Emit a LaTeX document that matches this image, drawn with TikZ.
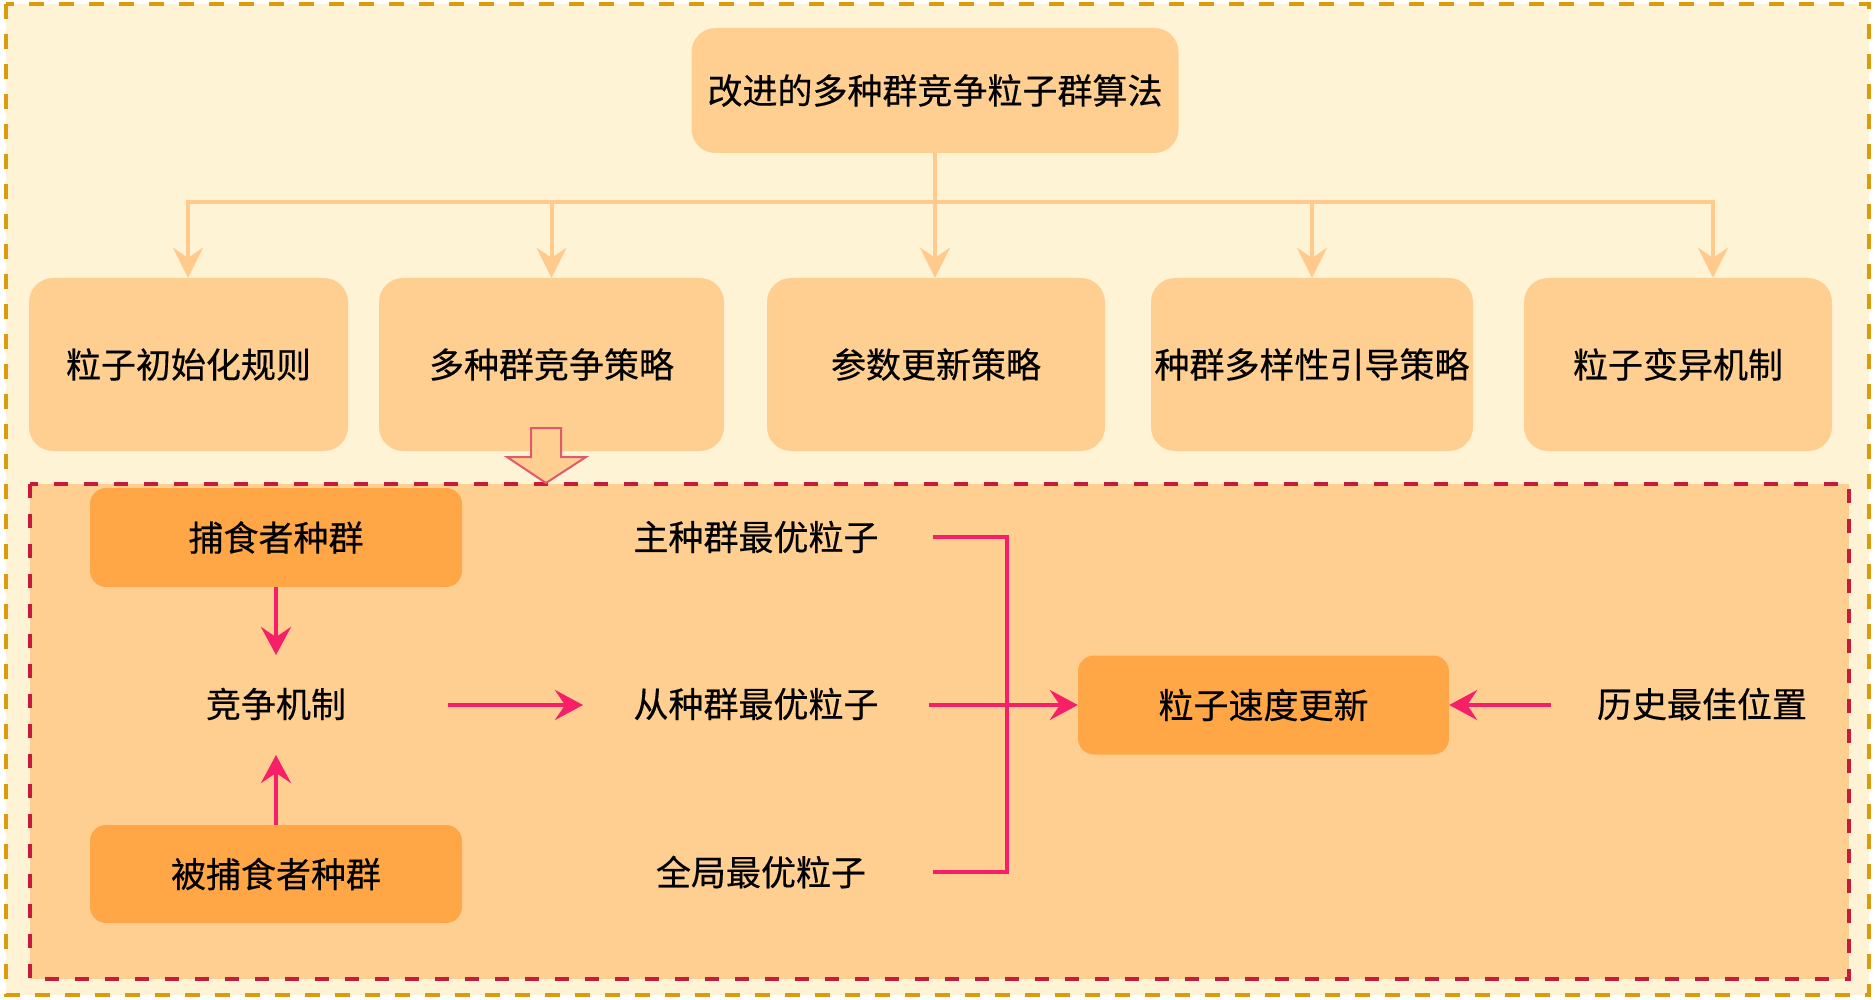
\documentclass[tikz,border=0pt]{standalone}
\usepackage{fontspec}
\newfontfamily\cjk[FakeBold=0.4]{Noto Sans CJK SC}
\usetikzlibrary{arrows.meta,calc}
\definecolor{bgcream}{HTML}{FFF3D6}
\definecolor{goldline}{HTML}{DB9B0C}
\definecolor{lightor}{HTML}{FFCF92}
\definecolor{connor}{HTML}{FFCA8C}
\definecolor{darkor}{HTML}{FFA646}
\definecolor{redline}{HTML}{C81A3C}
\definecolor{pinkline}{HTML}{F72068}
\definecolor{hollowline}{HTML}{E05A6A}
\tikzset{
  txt/.style={font=\cjk\fontsize{35}{42}\selectfont, text=black, inner sep=0pt},
  topbox/.style={txt, fill=lightor, draw=none, rounded corners=24pt},
  darkbox/.style={txt, fill=darkor, draw=none, rounded corners=16pt},
  conn/.style={draw=connor, line width=4pt, -{Stealth[length=30pt,width=30pt,inset=10pt]}},
  connline/.style={draw=connor, line width=4pt},
  pk/.style={draw=pinkline, line width=4pt, -{Stealth[length=28pt,width=30pt,inset=10pt]}},
  pkline/.style={draw=pinkline, line width=4pt},
}
\begin{document}
\begin{tikzpicture}[x=1pt,y=-1pt]
\useasboundingbox (0,0) rectangle (1875,1000);
\fill[white] (0,0) rectangle (1875,1000);
% outer region
\draw[fill=bgcream, draw=goldline, line width=4pt, dash pattern=on 15pt off 15pt] (6,4) rectangle (1869,995);
% inner region
\draw[fill=lightor, draw=redline, line width=4.5pt, dash pattern=on 14pt off 16pt] (30,484) rectangle (1849,979);

% top node
\node[topbox, minimum width=487pt, minimum height=125pt] (top) at (935,90.5) {改进的多种群竞争粒子群算法};

% row nodes
\node[topbox, minimum width=319pt, minimum height=173pt] (b1) at (188.5,364.5) {粒子初始化规则};
\node[topbox, minimum width=345pt, minimum height=173pt] (b2) at (551.5,364.5) {多种群竞争策略};
\node[topbox, minimum width=338pt, minimum height=173pt] (b3) at (936,364.5) {参数更新策略};
\node[topbox, minimum width=322pt, minimum height=173pt] (b4) at (1312,364.5) {种群多样性引导策略};
\node[topbox, minimum width=308pt, minimum height=173pt] (b5) at (1678,364.5) {粒子变异机制};

% top connectors
\coordinate (hl) at (188,202);
\coordinate (hr) at (1713,202);
\draw[connline] (top.south) -- (top.south |- hl);
\draw[connline, line cap=rect] (hl) -- (hr);
\draw[conn] (hl) -- (b1.north -| hl);
\draw[conn] (b2.north |- hl) -- (b2.north);
\draw[conn] (top.south |- hl) -- (top.south |- b3.north);
\draw[conn] (b4.north |- hl) -- (b4.north);
\draw[conn] (hr) -- (hr |- b5.north);

% hollow arrow
\draw[fill=lightor, draw=hollowline, line width=2pt, line join=miter]
  (531,428) -- (561,428) -- (561,457) -- (586,457) -- (546,483) -- (507,457) -- (531,457) -- cycle;

% bottom nodes
\node[darkbox, minimum width=372pt, minimum height=99pt] (pred) at (276,537.5) {捕食者种群};
\node[txt] (comp) at (276,704) {竞争机制};
\node[darkbox, minimum width=372pt, minimum height=98pt] (prey) at (276,874) {被捕食者种群};
\node[txt] (m1) at (756,537) {主种群最优粒子};
\node[txt] (m2) at (756,704) {从种群最优粒子};
\node[txt] (m3) at (761,872) {全局最优粒子};
\node[darkbox, minimum width=371pt, minimum height=99pt] (vel) at (1263.5,705) {粒子速度更新};
\node[txt] (hist) at (1702,704) {历史最佳位置};

% pink connectors
\draw[pk] (pred.south) -- ($(comp.center)+(0,-49)$);
\draw[pk] (prey.north) -- ($(comp.center)+(0,51)$);
\draw[pk] ($(comp.center)+(172,1)$) -- ($(m2.center)+(-173,1)$);
\coordinate (bt) at (1007,537);
\draw[pkline, line join=miter] ($(m1.center)+(177,0)$) -- (bt) -- (bt |- m3) -- ($(m3.center)+(172,0)$);
\draw[pk] ($(m2.center)+(173,1)$) -- ($(vel.west)+(0,0)$);
\draw[pk] ($(hist.center)+(-151,1)$) -- (vel.east);
\end{tikzpicture}
\end{document}
